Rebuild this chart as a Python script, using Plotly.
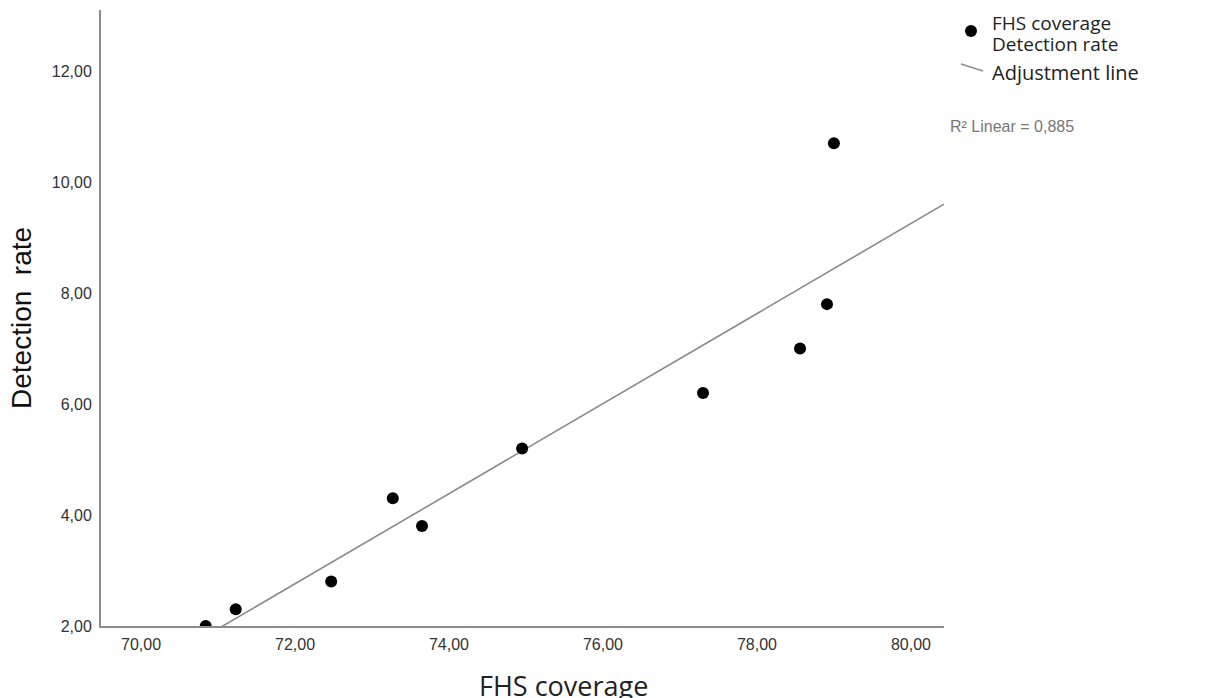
import numpy as np
import plotly.graph_objects as go

# Data
fhs_coverage = [70.84, 71.23, 72.47, 73.27, 73.65, 74.95, 77.30, 78.56, 78.91, 79.00]
detection_rate = [2.00, 2.30, 2.80, 4.30, 3.80, 5.20, 6.20, 7.00, 7.80, 10.70]
x_ticks = [70, 72, 74, 76, 78, 80]
y_ticks = [2, 4, 6, 8, 10, 12]
x_range = [69.48, 80.43]
y_range = [2.0, 13.1]
r2_label = "R² Linear = 0,885"
legend_labels = ["FHS coverage", "Detection rate", "Adjustment line"]

OFF = 8  # page body margin in the browser
W, H = 1206 - OFF, 698 - OFF
# plot area in page pixels
L, R, T, B = 101, 944, 10, 626


def px(xp):
    return (xp - L) / (R - L)


def py(yp):
    return (B - yp) / (B - T)


slope, intercept = np.polyfit(fhs_coverage, detection_rate, 1)
fit_x = np.array(x_range)
fit_y = slope * fit_x + intercept

fig = go.Figure()
fig.add_trace(go.Scatter(
    x=fit_x, y=fit_y, mode="lines", name="Adjustment line",
    line=dict(color="#8a8a8a", width=1.6), showlegend=False, hoverinfo="skip"))
fig.add_trace(go.Scatter(
    x=fhs_coverage, y=detection_rate, mode="markers",
    name="FHS coverage Detection rate",
    marker=dict(color="black", size=12, line=dict(width=0)), showlegend=False))

axis_common = dict(
    showgrid=False, zeroline=False, showline=True, linecolor="#8c8c8c", linewidth=2,
    ticks="", tickformat=".2f",
    tickfont=dict(family="Liberation Sans, Arial", size=16, color="#333333"),
)

fig.update_layout(
    width=W, height=H,
    margin=dict(l=L - OFF, r=W - (R - OFF), t=T - OFF, b=H - (B - OFF), autoexpand=False),
    paper_bgcolor="white", plot_bgcolor="white",
    separators=",.",
    xaxis=dict(range=x_range, tickvals=x_ticks, ticklabelstandoff=3, **axis_common),
    yaxis=dict(range=y_range, tickvals=y_ticks, ticklabelstandoff=4, **axis_common),
)

legend_font = dict(family="Open Sans", size=19, color="#222222")
annotations = [
    dict(text="FHS coverage", x=px(563), y=py(685), xref="paper", yref="paper",
         showarrow=False, xanchor="center", yanchor="middle",
         font=dict(family="Open Sans", size=27, color="#222222")),
    dict(text="Detection\u00a0\u00a0rate", x=px(21), y=py(318), xref="paper", yref="paper",
         showarrow=False, xanchor="center", yanchor="middle", textangle=-90,
         font=dict(family="Liberation Sans, Arial", size=28, color="#111111")),
    dict(text=legend_labels[0], x=px(990), y=py(23), xref="paper", yref="paper",
         showarrow=False, xanchor="left", yanchor="middle", font=legend_font),
    dict(text=legend_labels[1], x=px(990), y=py(44), xref="paper", yref="paper",
         showarrow=False, xanchor="left", yanchor="middle", font=legend_font),
    dict(text=legend_labels[2], x=px(990), y=py(72), xref="paper", yref="paper",
         showarrow=False, xanchor="left", yanchor="middle",
         font=dict(family="Open Sans", size=20, color="#222222")),
    dict(text=r2_label, x=px(948), y=py(126), xref="paper", yref="paper",
         showarrow=False, xanchor="left", yanchor="middle",
         font=dict(family="Liberation Sans, Arial", size=16, color="#777777")),
]
fig.update_layout(annotations=annotations)

shapes = [
    dict(type="circle", xref="paper", yref="paper",
         x0=px(965), x1=px(977), y0=py(37), y1=py(25),
         fillcolor="black", line=dict(width=0)),
    dict(type="line", xref="paper", yref="paper",
         x0=px(961), y0=py(64), x1=px(983), y1=py(71),
         line=dict(color="#8a8a8a", width=1.5)),
]
fig.update_layout(shapes=shapes)

fig.write_html("out.html")
